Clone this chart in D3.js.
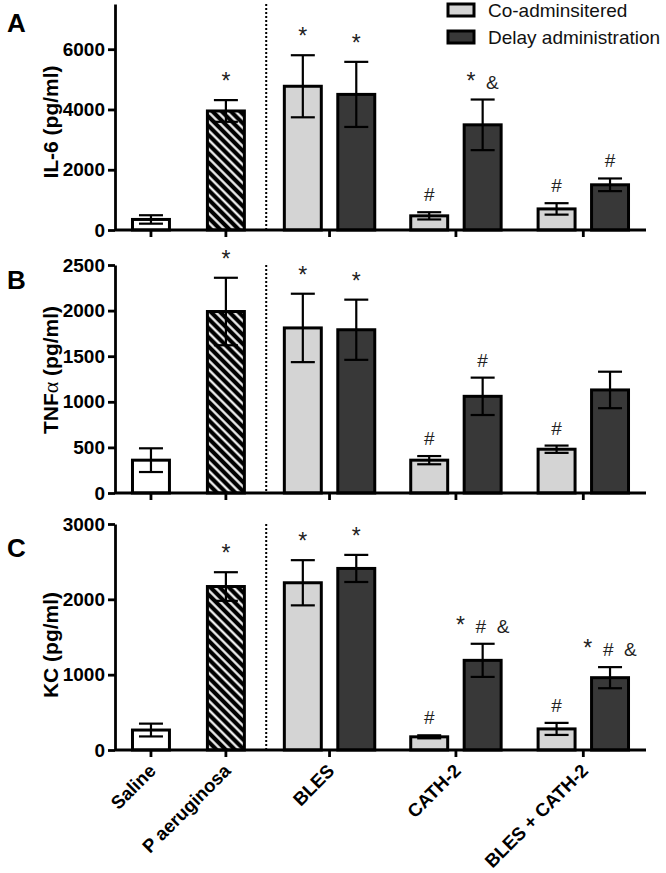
<!DOCTYPE html>
<html><head><meta charset="utf-8">
<script src="https://cdn.jsdelivr.net/npm/d3@7"></script>
<style>
body{margin:0;background:#fff}
svg{display:block}
text{font-family:"Liberation Sans",Arial,sans-serif}
</style>
</head><body>
<script>
// ---------- data ----------
const groups = ["Saline", "P aeruginosa", "BLES", "CATH-2", "BLES + CATH-2"];
const controlGroups = ["Saline", "P aeruginosa"];
const treatGroups = ["BLES", "CATH-2", "BLES + CATH-2"];
const series = ["Co-adminsitered", "Delay administration"];

const panelLetters = ["A", "B", "C"];
const yLabels = ["IL-6 (pg/ml)", "TNFα (pg/ml)", "KC (pg/ml)"];
const yMaxes = [7500, 2500, 3000];
const yTickVals = [[0, 2000, 4000, 6000], [0, 500, 1000, 1500, 2000, 2500], [0, 1000, 2000, 3000]];

// IL-6
const il6Control = [350, 3950];
const il6ControlErr = [140, 360];
const il6Co = [4770, 470, 700];
const il6CoErr = [1030, 120, 190];
const il6Delay = [4500, 3490, 1500];
const il6DelayErr = [1080, 840, 210];
const il6ControlNotes = ["", "*"];
const il6CoNotes = ["*", "#", "#"];
const il6DelayNotes = ["*", "*  &", "#"];

// TNF-alpha
const tnfControl = [360, 1990];
const tnfControlErr = [130, 370];
const tnfCo = [1810, 360, 480];
const tnfCoErr = [375, 45, 40];
const tnfDelay = [1790, 1060, 1130];
const tnfDelayErr = [330, 205, 200];
const tnfControlNotes = ["", "*"];
const tnfCoNotes = ["*", "#", "#"];
const tnfDelayNotes = ["*", "#", ""];

// KC
const kcControl = [265, 2170];
const kcControlErr = [85, 190];
const kcCo = [2220, 175, 280];
const kcCoErr = [300, 20, 80];
const kcDelay = [2410, 1190, 960];
const kcDelayErr = [180, 220, 140];
const kcControlNotes = ["", "*"];
const kcCoNotes = ["*", "#", "#"];
const kcDelayNotes = ["*", "*  #  &", "*  #  &"];

const panelData = [
  {control: il6Control, controlErr: il6ControlErr, co: il6Co, coErr: il6CoErr, delay: il6Delay, delayErr: il6DelayErr,
   cn: il6ControlNotes, con: il6CoNotes, dn: il6DelayNotes},
  {control: tnfControl, controlErr: tnfControlErr, co: tnfCo, coErr: tnfCoErr, delay: tnfDelay, delayErr: tnfDelayErr,
   cn: tnfControlNotes, con: tnfCoNotes, dn: tnfDelayNotes},
  {control: kcControl, controlErr: kcControlErr, co: kcCo, coErr: kcCoErr, delay: kcDelay, delayErr: kcDelayErr,
   cn: kcControlNotes, con: kcCoNotes, dn: kcDelayNotes}
];

// ---------- style / layout ----------
const W = 666, H = 873;
const colors = {saline: "#ffffff", co: "#d4d4d4", delay: "#383838"};
const plotTops = [4, 265, 524];
const plotBottoms = [230, 493, 750];
const yLabelMid = [122, 370, 645];
const letterBase = [32, 289, 557];
const axisLeft = 115, axisRight = 646;
const pairGap = 13.5 / 40;                       // in bar-width units
const groupGaps = [35 / 40, 37 / 40, 33 / 40, 34 / 40];

// slot layout (units)
let u = 0;
const slots = [];
const groupCenters = {};
groups.forEach((g, gi) => {
  if (controlGroups.includes(g)) {
    slots.push({group: g, kind: gi === 0 ? "saline" : "pa", start: u});
    groupCenters[g] = u + 0.5;
    u += 1;
  } else {
    slots.push({group: g, kind: "co", start: u});
    slots.push({group: g, kind: "delay", start: u + 1 + pairGap});
    groupCenters[g] = u + (2 + pairGap) / 2;
    u += 2 + pairGap;
  }
  if (gi < groups.length - 1) u += groupGaps[gi];
});
const totalUnits = u;
const x = d3.scaleLinear().domain([-0.4, totalUnits + 0.4]).range([axisLeft, axisRight]);
const bw = x(1) - x(0);

const svg = d3.select("body").append("svg").attr("width", W).attr("height", H);

const defs = svg.append("defs");
const pat = defs.append("pattern").attr("id", "hatch").attr("patternUnits", "userSpaceOnUse")
  .attr("width", 6.5).attr("height", 6.5).attr("patternTransform", "rotate(-45)");
pat.append("rect").attr("width", 6.5).attr("height", 6.5).attr("fill", "#000");
pat.append("line").attr("x1", 3.25).attr("y1", 0).attr("x2", 3.25).attr("y2", 6.5)
  .attr("stroke", "#fff").attr("stroke-width", 2.2);

panelData.forEach((pd, pi) => {
  const y = d3.scaleLinear().domain([0, yMaxes[pi]]).range([plotBottoms[pi], plotTops[pi]]);
  const g = svg.append("g");

  const bars = slots.map(s => {
    if (s.kind === "saline" || s.kind === "pa") {
      const i = controlGroups.indexOf(s.group);
      return {...s, v: pd.control[i], e: pd.controlErr[i], note: pd.cn[i]};
    }
    const j = treatGroups.indexOf(s.group);
    if (s.kind === "co") return {...s, v: pd.co[j], e: pd.coErr[j], note: pd.con[j]};
    return {...s, v: pd.delay[j], e: pd.delayErr[j], note: pd.dn[j]};
  });

  const sw = 3;
  g.selectAll("rect.bar").data(bars).join("rect").attr("class", "bar")
    .attr("x", d => x(d.start) + sw / 2)
    .attr("width", bw - sw)
    .attr("y", d => y(d.v))
    .attr("height", d => y(0) - y(d.v))
    .attr("fill", d => d.kind === "saline" ? colors.saline : d.kind === "pa" ? "url(#hatch)" : colors[d.kind])
    .attr("stroke", "#000").attr("stroke-width", sw);

  // error bars
  const cap = 12;
  const eb = g.selectAll("g.err").data(bars).join("g").attr("class", "err")
    .attr("stroke", "#000").attr("stroke-width", 2.2);
  eb.append("line").attr("x1", d => x(d.start + 0.5)).attr("x2", d => x(d.start + 0.5))
    .attr("y1", d => y(d.v - d.e)).attr("y2", d => y(d.v + d.e));
  eb.append("line").attr("x1", d => x(d.start + 0.5) - cap).attr("x2", d => x(d.start + 0.5) + cap)
    .attr("y1", d => y(d.v + d.e)).attr("y2", d => y(d.v + d.e));
  eb.append("line").attr("x1", d => x(d.start + 0.5) - cap).attr("x2", d => x(d.start + 0.5) + cap)
    .attr("y1", d => y(d.v - d.e)).attr("y2", d => y(d.v - d.e));

  // annotations (asterisks drawn a bit larger, as in the original)
  const notes = g.selectAll("text.note").data(bars.filter(d => d.note)).join("text").attr("class", "note")
    .attr("x", d => x(d.start + 0.5)).attr("y", d => y(d.v + d.e) - 11)
    .attr("text-anchor", "middle").style("white-space", "pre")
    .attr("font-size", 19).attr("fill", "#222");
  notes.each(function(d) {
    const t = d3.select(this);
    d.note.split("").forEach(ch => {
      t.append("tspan").attr("font-size", ch === "*" ? 23 : 19).text(ch);
    });
  });

  // dotted separator
  const sepX = x(slots[1].start + 1 + groupGaps[1] * 0.55);
  g.append("line").attr("x1", sepX).attr("x2", sepX).attr("y1", plotTops[pi]).attr("y2", plotBottoms[pi])
    .attr("stroke", "#000").attr("stroke-width", 2).attr("stroke-dasharray", "2,2");

  // y axis
  const ya = g.append("g").attr("transform", `translate(${axisLeft},0)`)
    .call(d3.axisLeft(y).tickValues(yTickVals[pi]).tickFormat(d3.format("d")).tickSize(7).tickSizeOuter(0).tickPadding(3));
  ya.select(".domain").attr("stroke-width", 2.8);
  ya.selectAll(".tick line").attr("stroke-width", 2.8);
  ya.selectAll(".tick text").attr("font-size", 19).attr("font-weight", "bold")
    .attr("font-family", '"Liberation Sans",Arial,sans-serif').attr("fill", "#000");

  // x axis
  const xa = g.append("g").attr("transform", `translate(0,${plotBottoms[pi]})`);
  xa.append("line").attr("x1", axisLeft).attr("x2", axisRight).attr("stroke", "#000").attr("stroke-width", 2.8);
  xa.selectAll("line.tk").data(groups).join("line").attr("class", "tk")
    .attr("x1", d => x(groupCenters[d])).attr("x2", d => x(groupCenters[d]))
    .attr("y1", 0).attr("y2", 7).attr("stroke", "#000").attr("stroke-width", 2.8);
  if (pi === panelData.length - 1) {
    xa.selectAll("text.xl").data(groups).join("text").attr("class", "xl")
      .attr("transform", d => `translate(${x(groupCenters[d]) + 6},${22}) rotate(-45)`)
      .attr("text-anchor", "end").attr("font-size", 18.5).attr("font-weight", "bold").text(d => d);
  }

  // y label
  const yl = g.append("text").attr("transform", `translate(58,${yLabelMid[pi]}) rotate(-90)`)
    .attr("text-anchor", "middle").attr("font-size", 21).attr("font-weight", "bold");
  const lab = yLabels[pi];
  if (lab.includes("α")) {
    const [pre, post] = lab.split("α");
    yl.append("tspan").text(pre);
    yl.append("tspan").attr("font-family", '"Liberation Serif",serif').attr("font-weight", "normal").attr("font-size", 22).text("α");
    yl.append("tspan").text(post);
  } else yl.text(lab);

  // panel letter
  g.append("text").attr("x", 7).attr("y", letterBase[pi]).attr("font-size", 26).attr("font-weight", "bold").text(panelLetters[pi]);
});

// legend
const leg = svg.append("g");
series.forEach((s, i) => {
  leg.append("rect").attr("x", 448).attr("y", 4 + i * 27).attr("width", 26).attr("height", 12)
    .attr("fill", i === 0 ? colors.co : colors.delay).attr("stroke", "#000").attr("stroke-width", 3);
  leg.append("text").attr("x", 488).attr("y", 17 + i * 26.5).attr("font-size", 19).attr("fill", "#111").text(s);
});
</script>
</body></html>
